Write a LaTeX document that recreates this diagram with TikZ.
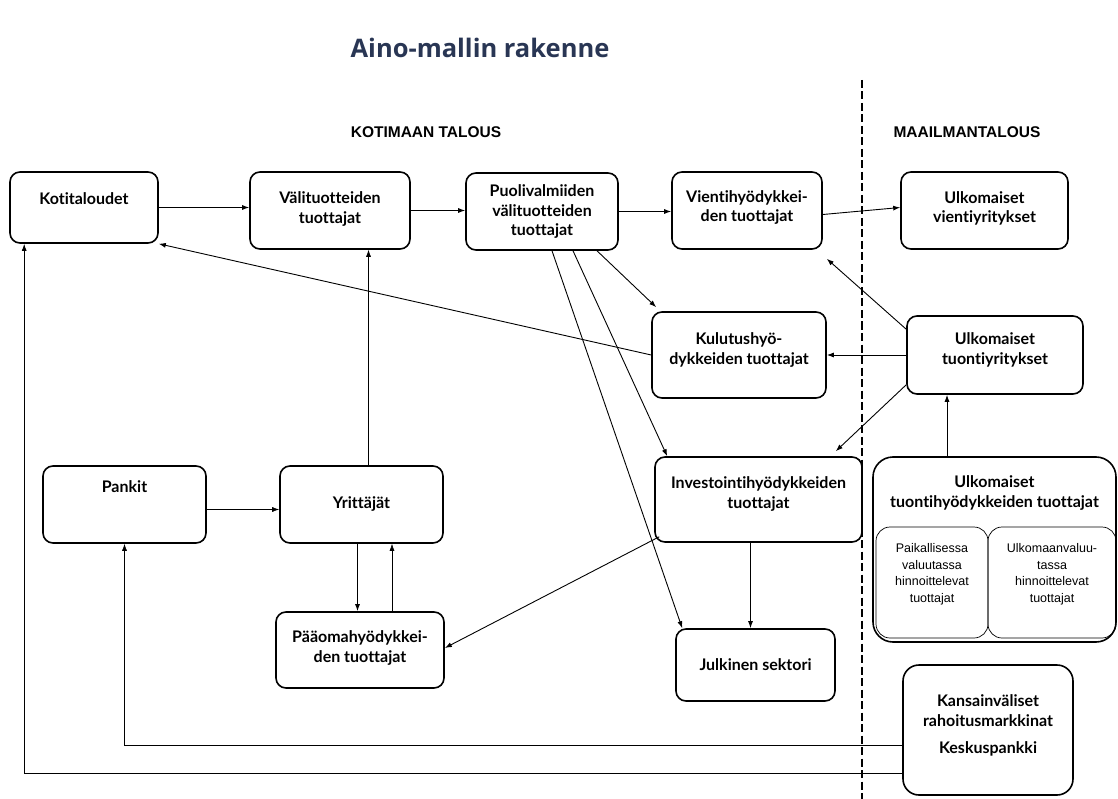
\documentclass[tikz,border=0pt]{standalone}
\usepackage{fontspec}
\setmainfont{Liberation Sans}
\newfontfamily\boxfont[Ligatures=CommonOff]{Lato}
\newfontfamily\titlefont{Open Sans}
\usetikzlibrary{arrows.meta}
\definecolor{navyt}{rgb}{0.16,0.21,0.33}

\begin{document}
\begin{tikzpicture}[x=1pt,y=-1pt,
    box/.style={draw,line width=1.6pt,rounded corners=10pt,align=center,inner sep=0pt,
        font=\boxfont\bfseries\fontsize{16}{19.5}\selectfont},
    subbox/.style={draw,line width=0.7pt,rounded corners=14pt,align=center,inner sep=0pt,
        font=\fontsize{12.5}{16.5}\selectfont},
    arr/.style={-{Latex[length=7pt,width=5pt]},line width=0.9pt},
    thinarr/.style={-{Latex[length=7pt,width=5pt]},line width=0.6pt}]
    \useasboundingbox (0,0) rectangle (1118,799);
    % otsikot
    \node[text=navyt,font=\titlefont\bfseries\fontsize{25.5}{30}\selectfont] (title) at (480,48) {Aino-mallin rakenne};
    \node[font=\bfseries\fontsize{15.5}{18}\selectfont] (kotimaan) at (426,132) {KOTIMAAN TALOUS};
    \node[font=\bfseries\fontsize{15.5}{18}\selectfont] (maailma) at (967,132) {MAAILMANTALOUS};
    \coordinate (dtop) at (862,80);
    \coordinate (dbot) at (862,799);
    \draw[line width=2.2pt,dash pattern=on 8pt off 3.5pt] (dtop) -- (dbot);
    % kotimaan talous
    \node[box,minimum width=148pt,minimum height=71pt,text depth=17pt] (kotit) at (84,207.5) {Kotitaloudet};
    \node[box,minimum width=160pt,minimum height=77pt,text depth=6pt] (valit) at (330,210.5) {Välituotteiden\\tuottajat};
    \node[box,minimum width=152pt,minimum height=77pt] (puol) at (542,211.5) {Puolivalmiiden\\välituotteiden\\tuottajat};
    \node[box,minimum width=150pt,minimum height=77pt,text depth=9pt] (vienti) at (747,210.5) {Vientihyödykkei-\\den tuottajat};
    \node[box,minimum width=174pt,minimum height=86pt,text depth=13pt] (kulutus) at (739,355) {Kulutushyö-\\dykkeiden tuottajat};
    \node[box,minimum width=207pt,minimum height=85pt,text depth=14pt] (invest) at (758.5,499.5) {Investointihyödykkeiden\\tuottajat};
    \node[box,minimum width=159pt,minimum height=72pt] (julk) at (755.5,665) {Julkinen sektori};
    \node[box,minimum width=163pt,minimum height=77pt,text depth=36pt] (pankit) at (124.5,504.5) {Pankit};
    \node[box,minimum width=163pt,minimum height=77pt] (yritt) at (361.5,504.5) {Yrittäjät};
    \node[box,minimum width=168pt,minimum height=76pt,text depth=7pt] (paaoma) at (360,650) {Pääomahyödykkei-\\den tuottajat};
    % maailmantalous
    \node[box,minimum width=167pt,minimum height=77pt,text depth=7pt] (ulkv) at (984.5,210.5) {Ulkomaiset\\vientiyritykset};
    \node[box,minimum width=176pt,minimum height=78pt,text depth=13pt] (tuonti) at (995,355) {Ulkomaiset\\tuontiyritykset};
    \node[box,rounded corners=20pt,minimum width=243pt,minimum height=185pt,text depth=116pt] (tuontihyod) at (994.5,549.5) {Ulkomaiset\\tuontihyödykkeiden tuottajat};
    \node[subbox,minimum width=112pt,minimum height=111pt,text depth=19pt] (paik) at (932,582.5) {Paikallisessa\\valuutassa\\hinnoittelevat\\tuottajat};
    \node[subbox,minimum width=128pt,minimum height=111pt,text depth=19pt] (ulkoval) at (1052,582.5) {Ulkomaanvaluu-\\tassa\\hinnoittelevat\\tuottajat};
    \node[box,rounded corners=16pt,minimum width=170pt,minimum height=130pt,text depth=11pt] (kansa) at (988,730) {Kansainväliset\\rahoitusmarkkinat\\[8pt]Keskuspankki};
    % nuolet
    \draw[arr] (kotit.east) -- (kotit.east -| valit.west);
    \draw[arr] (valit.east) -- (valit.east -| puol.west);
    \draw[arr] (puol.east) -- (puol.east -| vienti.west);
    \draw[arr] ([yshift=-4pt]vienti.east) -- ([yshift=3pt]ulkv.west);
    \draw[arr] (kulutus.west) -- (kotit.south east);
    \draw[thinarr] ([xshift=7pt]yritt.north) -- ([xshift=7pt]yritt.north |- valit.south);
    \draw[arr] ([xshift=55pt]puol.south) -- ([xshift=5pt,yshift=4pt]kulutus.north west);
    \draw[arr] ([xshift=31pt]puol.south) -- ([xshift=13pt]invest.north west);
    \draw[arr] ([xshift=10pt]puol.south) -- ([xshift=7pt]julk.north west);
    \draw[arr] ([yshift=-14pt]tuonti.north west) -- ([xshift=4pt,yshift=-9pt]vienti.south east);
    \draw[arr] (tuonti.west) -- (tuonti.west -| kulutus.east);
    \draw[arr] ([yshift=10pt]tuonti.south west) -- ([xshift=-27pt,yshift=5pt]invest.north east);
    \draw[arr] ([xshift=-47.5pt]tuontihyod.north) -- ([xshift=-47.5pt]tuontihyod.north |- tuonti.south);
    \draw[arr] ([xshift=-8pt]invest.south) -- ([xshift=-8pt]invest.south |- julk.north);
    \draw[arr] ([xshift=5pt,yshift=6pt]invest.south west) -- ([yshift=2pt]paaoma.east);
    \draw[thinarr] ([yshift=-5pt]pankit.east) -- ([yshift=-5pt]pankit.east -| yritt.west);
    \draw[arr] ([xshift=-4pt]yritt.south) -- ([xshift=-4pt]yritt.south |- paaoma.north);
    \draw[thinarr] ([xshift=32pt]paaoma.north) -- ([xshift=32pt]paaoma.north |- yritt.south);
    \draw[thinarr] ([yshift=-15pt]kansa.west) -| (pankit.south);
    \draw[arr] ([yshift=-43pt]kansa.west) -| ([xshift=15pt]kotit.south west);
\end{tikzpicture}
\end{document}
